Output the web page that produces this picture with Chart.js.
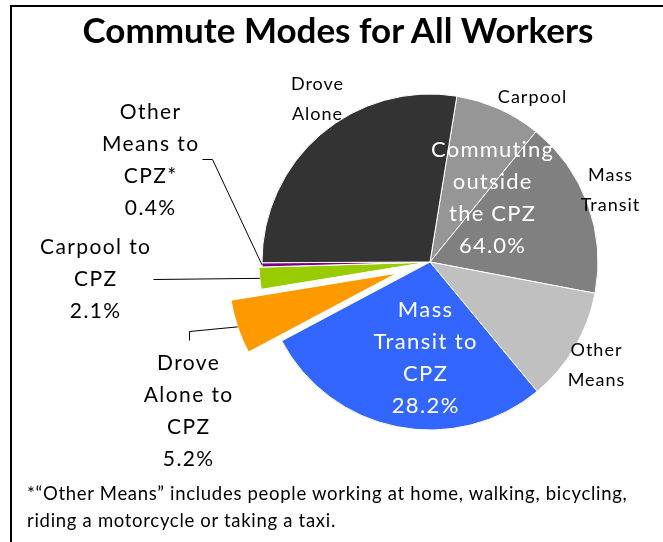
<!DOCTYPE html>
<html>
<head>
<meta charset="utf-8">
<script src="https://cdn.jsdelivr.net/npm/chart.js@4.4.0/dist/chart.umd.min.js"></script>
<style>
  html, body { margin: 0; padding: 0; background: #fff; }
  #wrap { position: relative; width: 663px; height: 542px; overflow: hidden; }
  #frame { position: absolute; left: 10px; top: 5px; width: 700px; height: 600px; border-left: 2px solid #000; border-top: 2px solid #000; }
  #title { position: absolute; left: 12px; top: 8px; width: 652px; text-align: center; font: bold 35px Lato, sans-serif; line-height: 1.2; color: #000; }
  #note { position: absolute; left: 27px; top: 480px; font: 18.5px Lato, sans-serif; letter-spacing: 0.7px; line-height: 27px; color: #000; }
  canvas { position: absolute; left: 0; top: 0; }
</style>
</head>
<body>
<div id="wrap">
  <div id="frame"></div>
  <canvas id="chart" width="663" height="542"></canvas>
  <div id="title">Commute Modes for All Workers</div>
  <div id="note">*“Other Means” includes people working at home, walking, bicycling,<br>riding a motorcycle or taking a taxi.</div>
</div>
<script>
// slices, clockwise from just past 12 o'clock
const categories = [
    "Carpool",
    "Mass Transit",
    "Other Means",
    "Mass Transit to CPZ",
    "Drove Alone to CPZ",
    "Carpool to CPZ",
    "Other Means to CPZ*",
    "Drove Alone",
];
const shares = [8.3, 17.1, 11.0, 28.2, 5.2, 2.1, 0.4, 27.6];
const outsideSlices = [0, 1, 2, 7];
const sliceColors = ["#969696", "#808080", "#c0c0c0", "#3366ff", "#ff9900", "#99cc00", "#800080", "#333333"];
const explodeBy = [0, 0, 0, 0, 35, 3, 0, 0];

const pct = (v) => v.toFixed(1) + "%";
const outsideShare = outsideSlices.reduce((s, i) => s + shares[i], 0);

// label text, placed relative to the pie centre
const labels = [
    { lines: ["Drove", "Alone"], at: [-113, -178], size: 18, gap: 1, color: "#000" },
    { lines: ["Carpool"], at: [102, -165], size: 18, gap: 1, color: "#000" },
    { lines: ["Mass", "Transit"], at: [180, -87], size: 18, gap: 1, color: "#000" },
    { lines: ["Other", "Means"], at: [166, 88], size: 18, gap: 1, color: "#000" },
    { lines: ["Commuting", "outside", "the CPZ", pct(outsideShare)], at: [62, -112], size: 22, gap: 1.2, color: "#fff", step: 32 },
    { lines: ["Mass", "Transit to", "CPZ", pct(shares[3])], at: [-5, 48], size: 22, gap: 1.4, color: "#fff", step: 32 },
    { lines: ["Drove", "Alone to", "CPZ", pct(shares[4])], at: [-242, 101], size: 21, gap: 1.4, color: "#000", step: 32 },
    { lines: ["Carpool to", "CPZ", pct(shares[5])], at: [-335, -15], size: 21, gap: 1.4, color: "#000", step: 32 },
    { lines: ["Other", "Means to", "CPZ*", pct(shares[6])], at: [-280, -150], size: 21, gap: 1.4, color: "#000", step: 32 },
];

// leader lines: bend points relative to centre, ending on the slice edge
const leaders = [
    { slice: 6, from: [[-228, -103], [-218, -103]] },
    { slice: 5, from: [[-277, 17]] },
    { slice: 4, from: [[-241, 78], [-241, 69]] },
];

function shift(arc, i) {
    const mid = (arc.startAngle + arc.endAngle) / 2;
    return [Math.cos(mid) * explodeBy[i], Math.sin(mid) * explodeBy[i]];
}

const explodePlugin = {
    id: "explode",
    beforeDatasetDraw(chart, args) {
        const ctx = chart.ctx;
        args.meta.data.forEach((arc, i) => {
            const [dx, dy] = shift(arc, i);
            ctx.save();
            ctx.translate(dx, dy);
            arc.draw(ctx);
            ctx.restore();
        });
        return false;
    },
};

const labelPlugin = {
    id: "sliceLabels",
    afterDatasetsDraw(chart) {
        const ctx = chart.ctx;
        const arcs = chart.getDatasetMeta(0).data;
        const cx = arcs[0].x;
        const cy = arcs[0].y;
        ctx.save();
        ctx.strokeStyle = "#000";
        ctx.lineWidth = 1;
        leaders.forEach((l) => {
            const arc = arcs[l.slice];
            const mid = (arc.startAngle + arc.endAngle) / 2;
            const [dx, dy] = shift(arc, l.slice);
            ctx.beginPath();
            l.from.forEach(([x, y], k) => {
                if (k) ctx.lineTo(cx + x + 0.5, cy + y + 0.5);
                else ctx.moveTo(cx + x + 0.5, cy + y + 0.5);
            });
            ctx.lineTo(cx + dx + Math.cos(mid) * arc.outerRadius, cy + dy + Math.sin(mid) * arc.outerRadius);
            ctx.stroke();
        });
        ctx.textAlign = "center";
        ctx.textBaseline = "middle";
        labels.forEach((lab) => {
            ctx.font = lab.size + "px Lato, sans-serif";
            ctx.letterSpacing = lab.gap + "px";
            ctx.fillStyle = lab.color;
            const step = lab.step || 30;
            lab.lines.forEach((t, k) => {
                ctx.fillText(t, cx + lab.at[0] + lab.gap / 2, cy + lab.at[1] + k * step);
            });
        });
        ctx.restore();
    },
};

new Chart(document.getElementById("chart"), {
    type: "pie",
    data: {
        labels: categories,
        datasets: [
            {
                data: shares,
                backgroundColor: sliceColors,
                borderColor: "#ffffff",
                borderWidth: 1,
            },
        ],
    },
    options: {
        responsive: false,
        animation: false,
        devicePixelRatio: 1,
        rotation: 9.2,
        radius: 168,
        layout: {
            padding: { left: 197, right: 0, top: 0, bottom: 18 },
        },
        plugins: {
            legend: { display: false },
            tooltip: { enabled: false },
        },
    },
    plugins: [explodePlugin, labelPlugin],
});
</script>
</body>
</html>
